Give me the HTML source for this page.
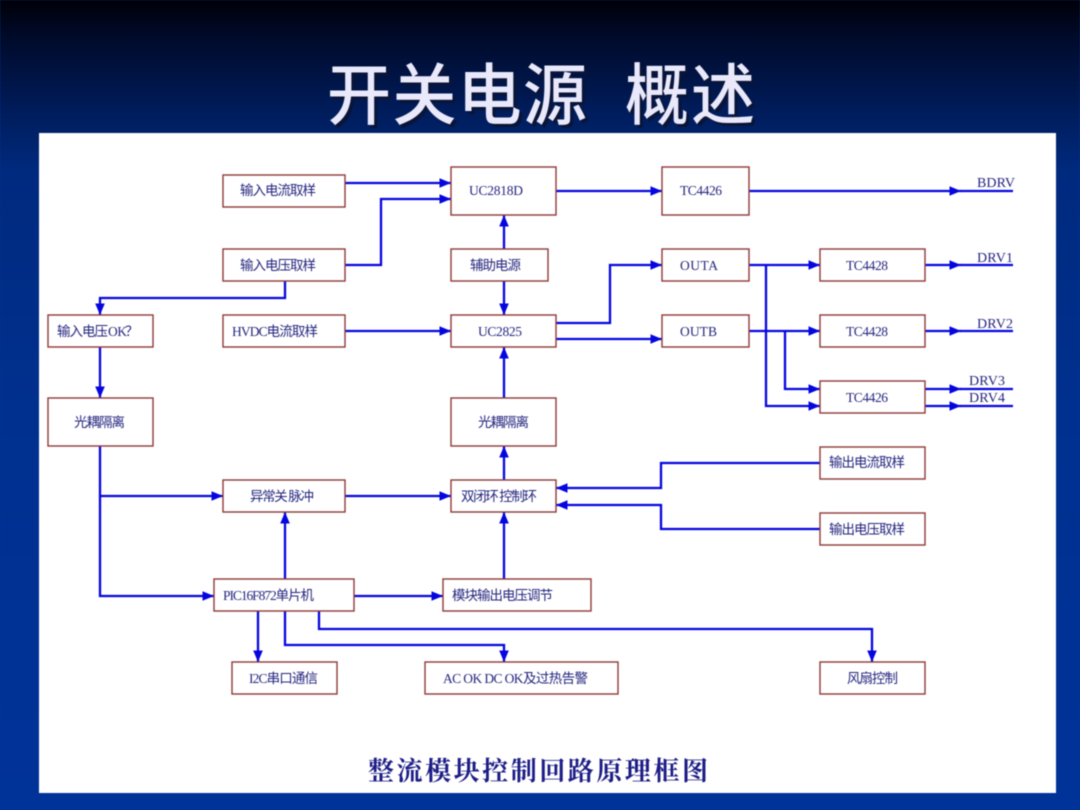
<!DOCTYPE html>
<html lang="zh"><head><meta charset="utf-8"><title>开关电源 概述</title>
<style>
html,body{margin:0;padding:0;width:1080px;height:810px;overflow:hidden;background:#003399}
svg{display:block;filter:blur(.4px)}
.b rect{fill:#fff;stroke:#8f3a3a;stroke-width:1.4}
.l path{fill:none;stroke:#0505e0;stroke-width:2.3}
text{font-family:"Liberation Serif","Noto Sans CJK SC",serif}
.t text{font-size:13.5px;fill:#25257f}
.d text{font-size:14px;fill:#25257f}
</style></head><body>
<svg width="1080" height="810" viewBox="0 0 1080 810" xmlns="http://www.w3.org/2000/svg">
<defs>
<linearGradient id="bg" x1="0" y1="0" x2="0" y2="1"><stop offset="0" stop-color="#000008"/><stop offset=".045" stop-color="#000a2a"/><stop offset=".125" stop-color="#001a55"/><stop offset=".21" stop-color="#002a7e"/><stop offset=".5" stop-color="#00308f"/><stop offset="1" stop-color="#003399"/></linearGradient>
<marker id="a" markerUnits="userSpaceOnUse" markerWidth="14" markerHeight="12" refX="13" refY="6" orient="auto"><path d="M1.500 1.200L13 6L1.500 10.800Z" fill="#0505e0"/></marker>
</defs>
<rect width="1080" height="810" fill="url(#bg)"/>
<g font-size="64" style="font-family:'Noto Sans CJK SC',sans-serif" font-weight="500">
<g transform="translate(3 3)" fill="#0a1436">
<text transform="translate(327 119) scale(1 1.05)" textLength="260" lengthAdjust="spacing">开关电源</text>
<text transform="translate(625 119) scale(1 1.05)" textLength="130" lengthAdjust="spacing">概述</text>
</g>
<g fill="#e9e9fb">
<text transform="translate(327 119) scale(1 1.05)" textLength="260" lengthAdjust="spacing">开关电源</text>
<text transform="translate(625 119) scale(1 1.05)" textLength="130" lengthAdjust="spacing">概述</text>
</g>
</g>
<rect x="39" y="133" width="1017" height="660" fill="#fff"/>
<g class="l">
<path marker-end="url(#a)" d="M345 183H451"/>
<path marker-end="url(#a)" d="M345 265H381V199H451"/>
<path marker-end="url(#a)" d="M285 281V298H100V315"/>
<path marker-end="url(#a)" d="M100 347V398"/>
<path marker-end="url(#a)" d="M345 331H451"/>
<path marker-end="url(#a)" d="M556 191H662"/>
<path marker-end="url(#a)" d="M749 191H961"/><path d="M960 191H1013"/>
<path marker-end="url(#a)" d="M504 249V215"/>
<path marker-end="url(#a)" d="M504 281V315"/>
<path marker-end="url(#a)" d="M556 323H610V265H662"/>
<path marker-end="url(#a)" d="M556 339H662"/>
<path marker-end="url(#a)" d="M749 265H820"/>
<path marker-end="url(#a)" d="M749 331H820"/>
<path marker-end="url(#a)" d="M766 265V406H820"/>
<path marker-end="url(#a)" d="M785 331V389H820"/>
<path marker-end="url(#a)" d="M925 265H961"/><path d="M960 265H1013"/>
<path marker-end="url(#a)" d="M925 331H961"/><path d="M960 331H1013"/>
<path marker-end="url(#a)" d="M925 389H961"/><path d="M960 389H1013"/>
<path marker-end="url(#a)" d="M925 406H961"/><path d="M960 406H1013"/>
<path marker-end="url(#a)" d="M504 398V347"/>
<path marker-end="url(#a)" d="M504 480V446"/>
<path marker-end="url(#a)" d="M345 496H451"/>
<path marker-end="url(#a)" d="M100 446V596H214"/>
<path marker-end="url(#a)" d="M100 496H223"/>
<path marker-end="url(#a)" d="M285 579V512"/>
<path marker-end="url(#a)" d="M504 579V512"/>
<path marker-end="url(#a)" d="M354 596H443"/>
<path marker-end="url(#a)" d="M820 463H661V488H556"/>
<path marker-end="url(#a)" d="M820 529H661V505H556"/>
<path marker-end="url(#a)" d="M258 611V662"/>
<path marker-end="url(#a)" d="M285 611V645H504V662"/>
<path marker-end="url(#a)" d="M319 611V629H872V662"/>
</g>
<g class="b">
<rect x="223" y="175" width="122" height="32"/>
<rect x="223" y="249" width="122" height="32"/>
<rect x="223" y="315" width="122" height="32"/>
<rect x="48" y="315" width="105" height="32"/>
<rect x="48" y="398" width="105" height="48"/>
<rect x="451" y="167" width="105" height="48"/>
<rect x="451" y="249" width="97" height="32"/>
<rect x="451" y="315" width="105" height="32"/>
<rect x="451" y="398" width="105" height="48"/>
<rect x="451" y="480" width="105" height="32"/>
<rect x="223" y="480" width="122" height="32"/>
<rect x="214" y="579" width="140" height="32"/>
<rect x="443" y="579" width="148" height="32"/>
<rect x="232" y="662" width="105" height="32"/>
<rect x="425" y="662" width="193" height="32"/>
<rect x="820" y="662" width="105" height="32"/>
<rect x="662" y="167" width="87" height="48"/>
<rect x="662" y="249" width="87" height="32"/>
<rect x="662" y="315" width="87" height="32"/>
<rect x="820" y="249" width="105" height="32"/>
<rect x="820" y="315" width="105" height="32"/>
<rect x="820" y="381" width="105" height="32"/>
<rect x="820" y="447" width="105" height="32"/>
<rect x="820" y="513" width="105" height="32"/>
</g>
<g class="t">
<text x="240" y="195" textLength="76">输入电流取样</text>
<text x="240" y="270" textLength="76">输入电压取样</text>
<text x="232" y="336" textLength="86">HVDC电流取样</text>
<text x="57" y="336" textLength="51">输入电压</text><text x="108" y="336" textLength="19">OK</text><text x="125" y="336">？</text>
<text x="74" y="427" textLength="51">光耦隔离</text>
<text x="469" y="195" textLength="54">UC2818D</text>
<text x="470" y="270" textLength="51">辅助电源</text>
<text x="478" y="336" textLength="44">UC2825</text>
<text x="478" y="427" textLength="51">光耦隔离</text>
<text x="461" y="501" textLength="76">双闭环 控制环</text>
<text x="250" y="501" textLength="64">异常关 脉冲</text>
<text x="223" y="600" textLength="91">PIC16F872单片机</text>
<text x="452" y="600" textLength="101">模块输出电压调节</text>
<text x="249" y="683" textLength="69">I2C串口通信</text>
<text x="443" y="683" textLength="145">AC OK DC OK及过热告警</text>
<text x="847" y="683" textLength="51">风扇控制</text>
<text x="680" y="195" textLength="42">TC4426</text>
<text x="680" y="270" textLength="38">OUTA</text>
<text x="680" y="336" textLength="37">OUTB</text>
<text x="846" y="270" textLength="42">TC4428</text>
<text x="846" y="336" textLength="42">TC4428</text>
<text x="846" y="402" textLength="42">TC4426</text>
<text x="829" y="467" textLength="76">输出电流取样</text>
<text x="829" y="534" textLength="76">输出电压取样</text>
</g>
<g class="d">
<text x="977" y="187" textLength="38">BDRV</text>
<text x="977" y="262" textLength="36">DRV1</text>
<text x="977" y="328" textLength="36">DRV2</text>
<text x="969" y="385" textLength="36">DRV3</text>
<text x="969" y="402" textLength="36">DRV4</text>
</g>
<text x="368" y="780" font-size="26" font-weight="700" fill="#1c1c86" style="font-family:'Noto Serif CJK SC',serif" textLength="340" lengthAdjust="spacing">整流模块控制回路原理框图</text>
</svg>
</body></html>
